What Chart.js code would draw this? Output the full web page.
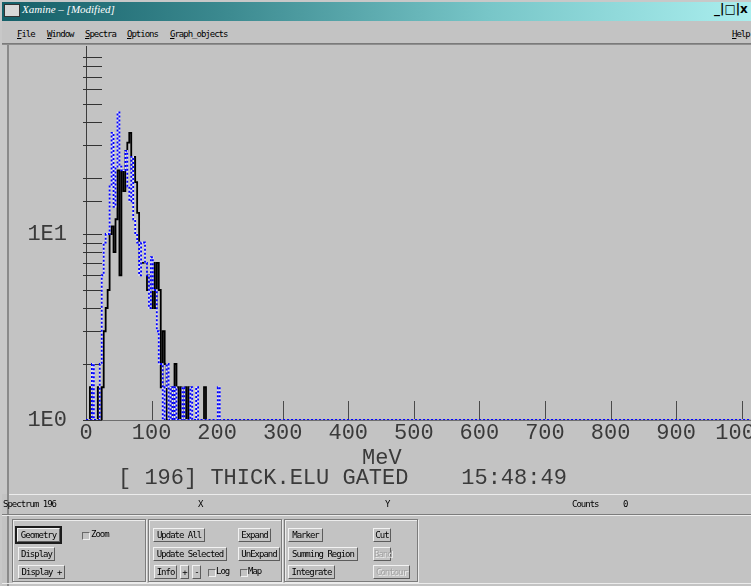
<!DOCTYPE html>
<html lang="en">
<head>
<meta charset="UTF-8">
<title>Xamine</title>
<script src="https://cdn.jsdelivr.net/npm/chart.js@4.4.1/dist/chart.umd.min.js"></script>
<style>
    html, body { margin: 0; padding: 0; }
    body { width: 751px; height: 586px; overflow: hidden; position: relative; background: #c8c8c8; }
    .abs { position: absolute; }
    .ui { font-family: "DejaVu Sans Mono", monospace; font-size: 9px; letter-spacing: -1px; color: #000; white-space: pre; }
    .big { font-family: "Liberation Mono", monospace; font-size: 22px; color: #3a3a3a; white-space: pre; line-height: 22px; }
    #titlebar { left: 2px; top: 2px; width: 749px; height: 19px;
        background: linear-gradient(to right, #155f68 0%, #3c8a90 30%, #78c6c8 65%, #aaeeee 100%); }
    #titletext { left: 22px; top: 3px; font: italic 11px "Liberation Serif", serif; color: #fff; }
    #icon { left: 4px; top: 4px; width: 14px; height: 11px; background: #d8d8d8; border: 1px solid #333; }
    #winbtns { left: 714px; top: 2px; font: bold 12px "DejaVu Sans", sans-serif; color: #000; letter-spacing: 0; }
    #menubar { left: 2px; top: 21px; width: 749px; height: 22px; background: #c3c3c3; }
    .sep1 { left: 2px; top: 43px; width: 749px; height: 1px; background: #7a7a7a; }
    .sep2 { left: 2px; top: 44px; width: 749px; height: 1px; background: #8e8e8e; }
    #pane { left: 7px; top: 45px; width: 744px; height: 449px; background: #c3c3c3; border-left: 2px solid #8a8a8a; }
    #plot { left: 9px; top: 45px; width: 772px; height: 447px; }
    #status { left: 2px; top: 494px; width: 749px; height: 92px; background: #c3c3c3; }
    .hline { height: 1px; }
    .grp { border: 1px solid #7c7c7c; box-shadow: inset 1px 1px 0 #ececec, 1px 1px 0 #ececec; }
    .btn { height: 12px; line-height: 12px; text-align: center; background: #c3c3c3;
        border: 1px solid; border-color: #f2f2f2 #5c5c5c #5c5c5c #f2f2f2; }
    .def { outline: 2px solid #1c1c1c; }
    .off { color: #a4a4a4; text-shadow: 1px 1px 0 #eeeeee; }
    .cb { width: 6px; height: 6px; background: #c3c3c3; border: 1px solid; border-color: #6a6a6a #f0f0f0 #f0f0f0 #6a6a6a; }
</style>
</head>
<body>
    <!-- window title and menu -->
    <div id="titlebar" class="abs"></div>
    <div id="icon" class="abs"></div>
    <div id="titletext" class="abs">Xamine &ndash; [Modified]</div>
    <div id="winbtns" class="abs">_|&#9633;|x</div>
    <div id="menubar" class="abs"></div>
    <div class="abs ui" style="left:17px; top:29px"><u>F</u>ile</div>
    <div class="abs ui" style="left:47px; top:29px"><u>W</u>indow</div>
    <div class="abs ui" style="left:85px; top:29px"><u>S</u>pectra</div>
    <div class="abs ui" style="left:127px; top:29px"><u>O</u>ptions</div>
    <div class="abs ui" style="left:170px; top:29px"><u>G</u>raph_objects</div>
    <div class="abs ui" style="left:732px; top:29px"><u>H</u>elp</div>
    <div class="abs sep1"></div>
    <div class="abs sep2"></div>

    <!-- spectrum pane -->
    <div id="pane" class="abs"></div>
    <div id="plot" class="abs"><canvas id="spec"></canvas></div>
    <div class="abs big" style="left:362px; top:448px">MeV</div>
    <div class="abs big" style="left:118px; top:468px">[ 196] THICK.ELU GATED    15:48:49</div>

    <!-- status line and buttons -->
    <div id="status" class="abs"></div>
    <div class="abs hline" style="left:7px; top:494px; width:744px; background:#ececec"></div>
    <div class="abs" style="left:7px; top:45px; width:2px; height:541px; background:#8a8a8a"></div>
    <div class="abs ui" style="left:3px; top:499px">Spectrum 196</div>
    <div class="abs ui" style="left:198px; top:499px">X</div>
    <div class="abs ui" style="left:385px; top:499px">Y</div>
    <div class="abs ui" style="left:572px; top:499px">Counts</div>
    <div class="abs ui" style="left:623px; top:499px">0</div>
    <div class="abs hline" style="left:2px; top:514px; width:749px; background:#7c7c7c"></div>
    <div class="abs hline" style="left:2px; top:515px; width:749px; background:#ececec"></div>

    <div class="abs grp" style="left:12px; top:519px; width:132px; height:61px"></div>
    <div class="abs grp" style="left:148px; top:519px; width:132px; height:61px"></div>
    <div class="abs grp" style="left:284px; top:519px; width:132px; height:61px"></div>

    <div class="abs ui btn def" style="left:17px; top:528px; width:41px">Geometry</div>
    <div class="abs cb" style="left:82px; top:532px"></div>
    <div class="abs ui" style="left:91px; top:529px">Zoom</div>
    <div class="abs ui btn" style="left:18px; top:547px; width:35px">Display</div>
    <div class="abs ui btn" style="left:18px; top:565px; width:45px">Display +</div>

    <div class="abs ui btn" style="left:153px; top:528px; width:50px">Update All</div>
    <div class="abs ui btn" style="left:238px; top:528px; width:31px">Expand</div>
    <div class="abs ui btn" style="left:153px; top:547px; width:72px">Update Selected</div>
    <div class="abs ui btn" style="left:238px; top:547px; width:40px">UnExpand</div>
    <div class="abs ui btn" style="left:154px; top:565px; width:21px">Info</div>
    <div class="abs ui btn" style="left:180px; top:565px; width:7px">+</div>
    <div class="abs ui btn" style="left:192px; top:565px; width:7px">-</div>
    <div class="abs cb" style="left:208px; top:569px"></div>
    <div class="abs ui" style="left:216px; top:566px">Log</div>
    <div class="abs cb" style="left:240px; top:569px"></div>
    <div class="abs ui" style="left:248px; top:566px">Map</div>

    <div class="abs ui btn" style="left:288px; top:528px; width:33px">Marker</div>
    <div class="abs ui btn" style="left:373px; top:528px; width:16px">Cut</div>
    <div class="abs ui btn" style="left:288px; top:547px; width:68px">Summing Region</div>
    <div class="abs ui btn off" style="left:373px; top:547px; width:16px">Band</div>
    <div class="abs ui btn" style="left:288px; top:565px; width:45px">Integrate</div>
    <div class="abs ui btn off" style="left:373px; top:565px; width:35px">Contour</div>
    <div class="abs hline" style="left:2px; top:583px; width:749px; background:#ececec"></div>

    <script>
        // bin start (MeV), 3 MeV per bin
        const binMeV = [0, 3, 6, 9, 12, 15, 18, 21, 24, 27,
            30, 33, 36, 39, 42, 45, 48, 51, 54, 57,
            60, 63, 66, 69, 72, 75, 78, 81, 84, 87,
            90, 93, 96, 99, 102, 105, 108, 111, 114, 117,
            120, 123, 126, 129, 132, 135, 138, 141, 144, 147,
            150, 153, 156, 159, 162, 165, 168, 171, 174, 177,
            180, 183, 186, 189, 192, 195, 198, 201, 204, 207,
            210];
        // counts, black solid spectrum
        const blackCounts = [0, 0, 1.5, 0, 0, 0, 1.5, 0, 1.5, 3,
            4, 5, 10, 11, 8, 12, 22, 6, 22, 17,
            28, 31, 35, 22, 26, 19, 13, 7, 7, 7,
            7, 5, 6, 4, 7, 4, 7, 5, 1.5, 3,
            2, 0, 0, 1.5, 0, 2, 1.5, 0, 1.5, 0,
            1.5, 0, 1.5, 0, 0, 0, 0, 0, 0, 0,
            1.5, 0, 0, 0, 0, 0, 0, 0, 0, 0,
            0];
        // counts, blue dotted spectrum
        const blueCounts = [0, 0, 0, 2, 0, 0, 0, 2, 6, 9,
            10, 10, 18, 35, 14, 23, 45, 23, 22, 22,
            28, 18, 15, 26, 12, 10, 9, 6, 9, 9,
            7, 6, 4, 7.5, 5, 5, 3, 2, 2, 0,
            1.5, 2, 0, 1.5, 0, 1.5, 0, 0, 0, 1.5,
            0, 0, 0, 1.5, 0, 0, 1.5, 0, 0, 0,
            0, 0, 0, 0, 0, 0, 0, 1.5, 0, 0,
            0];
        const axisEndMeV = 1060;
        const xTickStep = 100;
        const logFloor = 1;      // empty channels sit on the 1E0 baseline
        const logTop = 102.5;
        const yLabels = { 1: '1E0', 10: '1E1' };

        function toPoints(counts) {
            const pts = binMeV.map((x, i) => ({ x: x, y: counts[i] > 0 ? counts[i] : logFloor }));
            pts.push({ x: axisEndMeV, y: logFloor });
            return pts;
        }

        // short tick marks drawn inside the plot, like the original display
        const tickMarks = {
            id: 'tickMarks',
            beforeDatasetsDraw(chart) {
                const { ctx, chartArea, scales } = chart;
                ctx.save();
                ctx.strokeStyle = '#333';
                ctx.lineWidth = 1;
                scales.y.ticks.forEach(t => {
                    if (t.value >= 100) return;
                    const py = Math.round(scales.y.getPixelForValue(t.value)) + 0.5;
                    ctx.beginPath();
                    ctx.moveTo(chartArea.left - 3, py);
                    ctx.lineTo(chartArea.left + 16, py);
                    ctx.stroke();
                });
                ctx.strokeStyle = '#4a4a4a';
                scales.x.ticks.forEach(t => {
                    if (t.value === 0) return;
                    const px = Math.round(scales.x.getPixelForValue(t.value)) + 0.5;
                    ctx.beginPath();
                    ctx.moveTo(px, chartArea.bottom);
                    ctx.lineTo(px, chartArea.bottom - 19);
                    ctx.stroke();
                });
                ctx.restore();
            }
        };

        // the blue trace is a double dash: blue dashes over a pale underlay
        new Chart(document.getElementById('spec'), {
            type: 'line',
            data: {
                datasets: [
                    {
                        label: 'gated',
                        data: toPoints(blueCounts),
                        stepped: true,
                        borderColor: '#0000ff',
                        borderWidth: 1.8,
                        borderDash: [2, 2],
                        pointRadius: 0,
                        fill: false
                    },
                    {
                        label: 'gated underlay',
                        data: toPoints(blueCounts),
                        stepped: true,
                        borderColor: '#e2e2f2',
                        borderWidth: 1.6,
                        pointRadius: 0,
                        fill: false
                    },
                    {
                        label: 'spectrum',
                        data: toPoints(blackCounts),
                        stepped: true,
                        borderColor: '#000000',
                        borderWidth: 1.8,
                        pointRadius: 0,
                        fill: false
                    }
                ]
            },
            options: {
                responsive: true,
                maintainAspectRatio: false,
                animation: false,
                layout: { padding: { top: 1, left: 0, right: 0, bottom: 0 } },
                plugins: { legend: { display: false }, tooltip: { enabled: false } },
                scales: {
                    x: {
                        type: 'linear',
                        min: 0,
                        max: axisEndMeV,
                        grid: { display: false, drawTicks: false },
                        border: { color: '#6e6e6e', width: 1 },
                        ticks: {
                            stepSize: xTickStep,
                            includeBounds: false,
                            autoSkip: false,
                            maxRotation: 0,
                            padding: 0,
                            color: '#3a3a3a',
                            font: { family: 'Liberation Mono', size: 22 },
                            callback: v => (v % xTickStep === 0 ? String(v) : '')
                        },
                        afterFit(scale) {
                            scale.height = 72;
                            scale.paddingLeft = 0;
                            scale.paddingRight = 0;
                        }
                    },
                    y: {
                        type: 'logarithmic',
                        bounds: 'data',
                        min: logFloor,
                        max: logTop,
                        grid: { display: false, drawTicks: false },
                        border: { color: '#3c3c3c', width: 1 },
                        ticks: {
                            autoSkip: false,
                            padding: 19,
                            color: '#3a3a3a',
                            font: { family: 'Liberation Mono', size: 22 },
                            callback: v => yLabels[v] || ''
                        },
                        afterFit(scale) {
                            scale.width = 77;
                            scale.paddingTop = 0;
                            scale.paddingBottom = 0;
                        }
                    }
                }
            },
            plugins: [tickMarks]
        });
    </script>
</body>
</html>
